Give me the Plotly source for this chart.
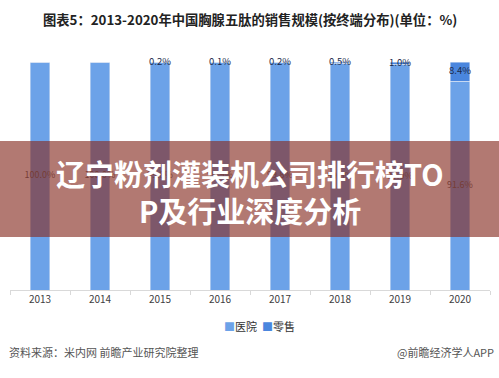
import plotly.graph_objects as go

years = ["2013", "2014", "2015", "2016", "2017", "2018", "2019", "2020"]
hospital = [100.0, 100.0, 99.8, 99.9, 99.8, 99.5, 99.0, 91.6]
retail = [0.0, 0.0, 0.2, 0.1, 0.2, 0.5, 1.0, 8.4]
series_names = ["医院", "零售"]

title_text = "图表5：2013-2020年中国胸腺五肽的销售规模(按终端分布)(单位：%)"
source_text = "资料来源：米内网 前瞻产业研究院整理"
brand_text = "@前瞻经济学人APP"
banner_lines = ["辽宁粉剂灌装机公司排行榜TO", "P及行业深度分析"]

FONT = "Noto Sans CJK SC, Microsoft YaHei, sans-serif"
c_hosp = "#6CA2E8"
c_ret = "#4A86DE"

fig = go.Figure()
fig.add_trace(go.Bar(x=years, y=hospital, name=series_names[0], marker_color=c_hosp,
                     hoverinfo="skip", showlegend=False))
fig.add_trace(go.Bar(x=years, y=retail, name=series_names[1], marker_color=c_ret,
                     hoverinfo="skip", showlegend=False))

# labels
fig.add_trace(go.Scatter(x=years, y=[h / 2 for h in hospital], mode="text",
                         text=[f"{h:.1f}%" for h in hospital],
                         textfont=dict(size=9, color="#595959", family=FONT),
                         showlegend=False, hoverinfo="skip", cliponaxis=False))
ret_x = [y for y, r in zip(years, retail) if r > 0]
ret_y = [h + r / 2 for h, r in zip(hospital, retail) if r > 0]
ret_t = [f"{r:.1f}%" for r in retail if r > 0]
fig.add_trace(go.Scatter(x=ret_x, y=ret_y, mode="text", text=ret_t,
                         textfont=dict(size=9.5, color="#1a2a4a", family=FONT),
                         showlegend=False, hoverinfo="skip", cliponaxis=False))

legend_html = (f"<span style='color:{c_hosp}'>■</span>{series_names[0]}  "
               f"<span style='color:{c_ret}'>■</span>{series_names[1]}")

annotations = [
    dict(text=f"<b>{title_text}</b>", xref="paper", yref="paper", x=0.5, y=1.0,
         yshift=43, showarrow=False, xanchor="center", yanchor="middle",
         font=dict(size=13.3, color="#222222", family=FONT)),
    dict(text=legend_html, xref="paper", yref="paper", x=0.52, y=0, yshift=-36,
         showarrow=False, xanchor="center", yanchor="middle",
         font=dict(size=11, color="#333333", family=FONT)),
    dict(text=source_text, xref="paper", yref="paper", x=0, y=0, yshift=-62, xshift=-3,
         showarrow=False, xanchor="left", yanchor="middle",
         font=dict(size=11, color="#555555", family=FONT)),
    dict(text=brand_text, xref="paper", yref="paper", x=1.0, y=0, yshift=-62, xshift=6,
         showarrow=False, xanchor="right", yanchor="middle",
         font=dict(size=11, color="#555555", family=FONT)),
]
# banner text
annotations.append(dict(text=f"<b>{banner_lines[0]}</b>", xref="paper", yref="paper",
                        x=0.5, y=0.514, showarrow=False, xanchor="center", yanchor="middle",
                        font=dict(size=29, color="white", family=FONT)))
annotations.append(dict(text=f"<b>{banner_lines[1]}</b>", xref="paper", yref="paper",
                        x=0.5, y=0.352, showarrow=False, xanchor="center", yanchor="middle",
                        font=dict(size=29, color="white", family=FONT)))

shapes = [dict(type="rect", xref="paper", yref="paper", x0=-0.05, x1=1.05,
               y0=0.2325, y1=0.6535, fillcolor="rgba(135,45,35,0.64)",
               line=dict(width=0), layer="above")]

fig.update_layout(
    width=499, height=378,
    margin=dict(l=10, r=9, t=62, b=88),
    barmode="stack", bargap=0.68,
    paper_bgcolor="white", plot_bgcolor="white",
    font=dict(family=FONT, size=10, color="#404040"),
    showlegend=False,
    annotations=annotations, shapes=shapes,
    xaxis=dict(showgrid=False, showline=True, linecolor="#d9d9d9", linewidth=1,
               ticks="outside", tickson="boundaries", ticklen=4, tickcolor="#d9d9d9",
               tickfont=dict(size=10, color="#404040", family=FONT), fixedrange=True),
    yaxis=dict(range=[0, 100], visible=False, fixedrange=True),
)

fig.write_html("out.html", config={"displayModeBar": False},
               post_script="document.body.style.margin='0';document.body.style.overflow='hidden';")
